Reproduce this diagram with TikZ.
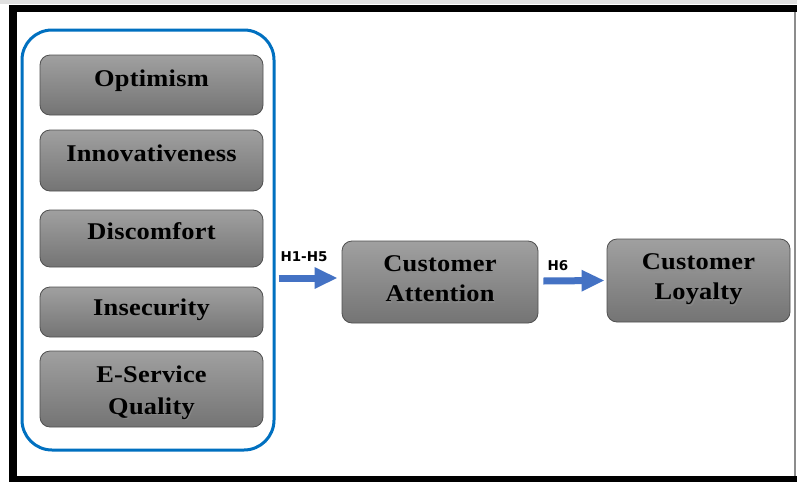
\documentclass[tikz,border=0pt]{standalone}
\usepackage{fontspec}
\setmainfont{Liberation Serif}
\newfontfamily\boxfont{Liberation Serif}[FakeStretch=1.1, LetterSpace=1]
\newfontfamily\hypfont{DejaVu Sans}
\usetikzlibrary{arrows.meta}
\definecolor{groupblue}{RGB}{0,112,192}
\definecolor{arrowblue}{RGB}{68,114,196}
\definecolor{boxtop}{RGB}{160,160,160}
\definecolor{boxbottom}{RGB}{116,116,116}
\definecolor{boxedge}{RGB}{80,80,80}
\tikzset{
  factor/.style={draw=boxedge, line width=0.8pt, rounded corners=10pt,
    top color=boxtop, bottom color=boxbottom, inner sep=0pt},
  ftext/.style={font=\boxfont\bfseries\fontsize{24}{30}\selectfont,
    align=center, inner sep=0pt, text=black},
  widelines/.style={font=\boxfont\bfseries\fontsize{24}{32}\selectfont},
  fshadow/.style={ftext, text=black!45, opacity=0.7},
  group/.style={draw=groupblue, line width=3pt, rounded corners=30pt,
    inner sep=0pt, minimum width=252pt, minimum height=420pt},
  bigarrow/.style={draw=arrowblue, line width=7pt,
    -{Triangle[length=23pt,width=20pt]}},
  hyp/.style={font=\hypfont\bfseries\fontsize{13.5}{15}\selectfont, inner sep=0pt}
}
% label of a box: #1 box node, #2 upward shift, #3 label name, #4 text, #5 extra style
\newcommand\shadowtext[5][]{%
  \node[fshadow,#1] at ([xshift=1.2pt,yshift=#3-1.2pt]#2.center) {#5};
  \node[ftext,#1] (#4) at ([yshift=#3]#2.center) {#5};}
\begin{document}
\begin{tikzpicture}[x=1pt,y=-1pt]
\useasboundingbox (0,0) rectangle (797,482);
\fill[white] (0,0) rectangle (797,482);
\fill[black!12] (0,0) rectangle (797,4);
% page frame
\fill[black] (9,5) rectangle (797,12);
\fill[black] (9,5) rectangle (17,482);
\fill[black] (9,476) rectangle (797,482);
\fill[black!45] (794,12) rectangle (796,476);

% grouped antecedents
\node[group] (grp) at (148,240) {};
\node[factor, minimum width=223pt, minimum height=60pt] (opt) at (151.5,85) {};
\node[factor, minimum width=223pt, minimum height=61pt] (inn) at (151.5,160.5) {};
\node[factor, minimum width=223pt, minimum height=57pt] (dis) at (151.5,238.5) {};
\node[factor, minimum width=223pt, minimum height=50pt] (ins) at (151.5,312) {};
\node[factor, minimum width=223pt, minimum height=76pt] (esq) at (151.5,389) {};

\shadowtext{opt}{4pt}{optT}{Optimism}
\shadowtext{inn}{7pt}{innT}{Innovativeness}
\shadowtext{dis}{7pt}{disT}{Discomfort}
\shadowtext{ins}{2pt}{insT}{Insecurity}
\shadowtext[widelines]{esq}{-4pt}{esqT}{E-Service\\Quality}

% outcomes
\node[factor, minimum width=196pt, minimum height=82pt] (att) at (440,282) {};
\node[factor, minimum width=183pt, minimum height=83pt] (loy) at (698.5,280.5) {};
\shadowtext{att}{3pt}{attT}{Customer\\Attention}
\shadowtext{loy}{1pt}{loyT}{Customer\\Loyalty}

% hypothesised paths
\draw[bigarrow] ([xshift=3pt,yshift=4pt]grp.east |- att.west) -- ([xshift=-4pt,yshift=4pt]att.west);
\draw[bigarrow] ([xshift=5pt,yshift=1pt]att.east) -- ([xshift=-2pt]loy.west);
\node[hyp] (h15) at (304,257) {H1-H5};
\node[hyp] (h6) at (558,266) {H6};
\end{tikzpicture}
\end{document}
